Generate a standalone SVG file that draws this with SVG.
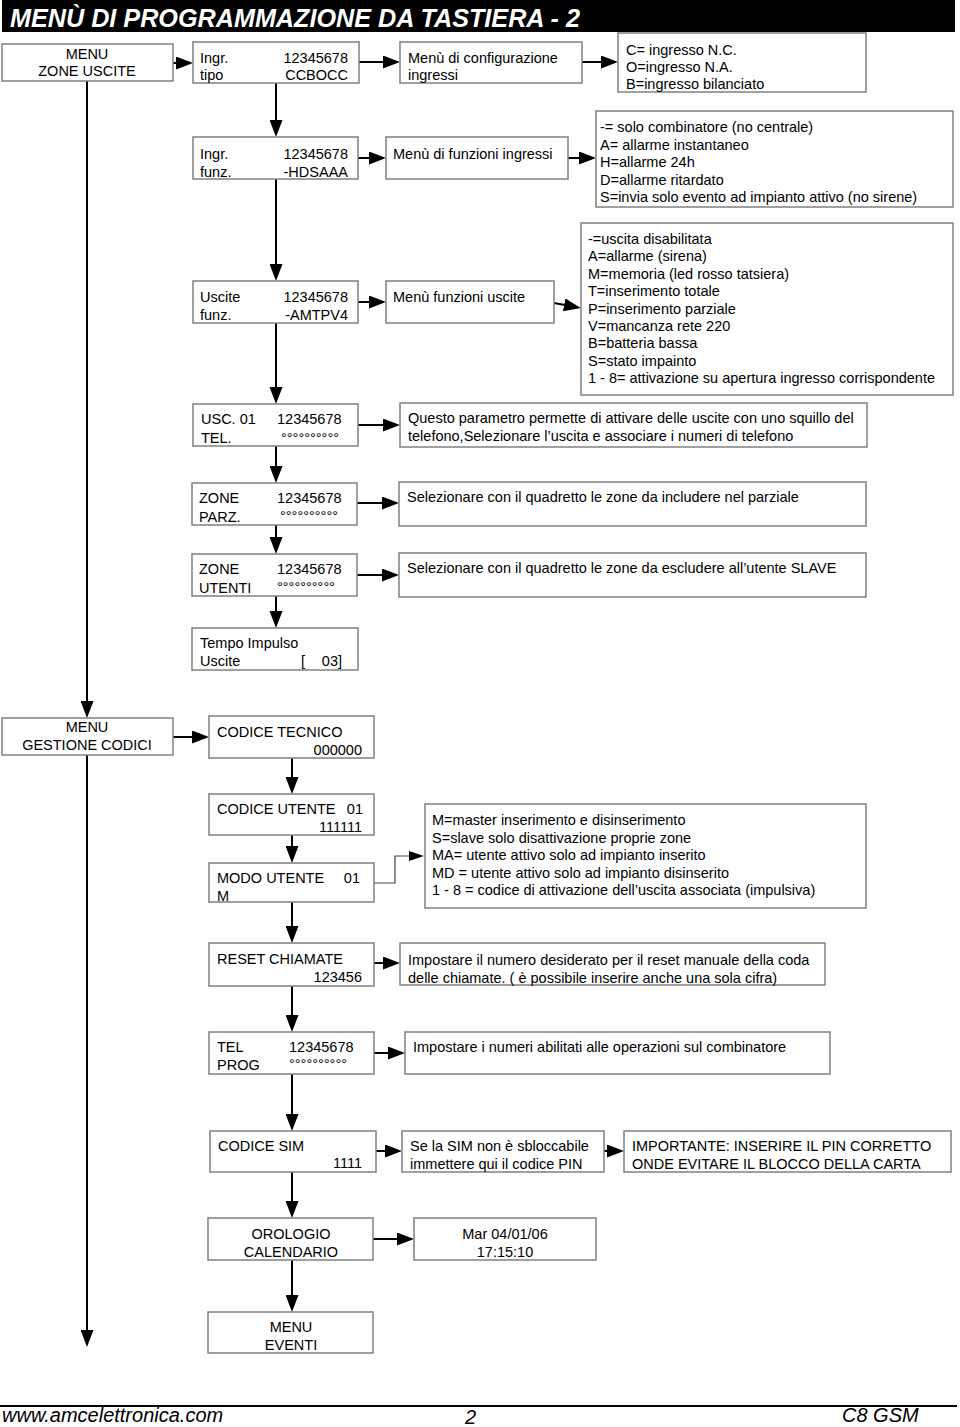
<svg xmlns="http://www.w3.org/2000/svg" width="960" height="1427" viewBox="0 0 960 1427">
<style>
.box{fill:#fff;stroke:#808080;stroke-width:1.5}
text{font-family:"Liberation Sans",Arial,sans-serif;font-size:14.5px;fill:#000}
.c{text-anchor:middle}
.e{text-anchor:end}
.conn line,.conn path{stroke:#000;stroke-width:2;fill:none}
.conn .thin{stroke:#444;stroke-width:1.2}
.ft{font-size:20px;font-style:italic}
</style>
<defs>
<marker id="ah" markerUnits="userSpaceOnUse" markerWidth="17" markerHeight="13" refX="9" refY="6.5" orient="auto">
<path d="M0,0 L17,6.5 L0,13 z" fill="#000"/>
</marker>
<marker id="as" markerUnits="userSpaceOnUse" markerWidth="15" markerHeight="10" refX="8" refY="5" orient="auto">
<path d="M0,0 L15,5 L0,10 z" fill="#000"/>
</marker>
</defs>
<rect width="960" height="1427" fill="#fff"/>
<g id="title">
<rect x="2" y="0" width="953" height="32" fill="#000"/>
<text x="10" y="27" style="font-size:25px;font-weight:bold;font-style:italic;fill:#fff" textLength="570" lengthAdjust="spacingAndGlyphs">MENÙ DI PROGRAMMAZIONE DA TASTIERA - 2</text>
</g>
<g class="conn" id="connectors">
<line x1="173" y1="63" x2="185" y2="63" marker-end="url(#ah)"/>
<line x1="359" y1="62" x2="392" y2="62" marker-end="url(#ah)"/>
<line x1="582" y1="62" x2="610" y2="62" marker-end="url(#ah)"/>
<line x1="276" y1="83" x2="276" y2="129" marker-end="url(#ah)"/>
<line x1="358" y1="158" x2="378" y2="158" marker-end="url(#ah)"/>
<line x1="568" y1="158" x2="588" y2="158" marker-end="url(#ah)"/>
<line x1="276" y1="179" x2="276" y2="273" marker-end="url(#ah)"/>
<line x1="358" y1="302" x2="378" y2="302" marker-end="url(#ah)"/>
<line x1="554" y1="303" x2="573" y2="306.5" marker-end="url(#ah)"/>
<line x1="276" y1="323" x2="276" y2="396" marker-end="url(#ah)"/>
<line x1="358" y1="425" x2="392" y2="425" marker-end="url(#ah)"/>
<line x1="276" y1="446" x2="276" y2="475" marker-end="url(#ah)"/>
<line x1="357" y1="503" x2="391" y2="503" marker-end="url(#ah)"/>
<line x1="276" y1="525" x2="276" y2="546" marker-end="url(#ah)"/>
<line x1="357" y1="575" x2="391" y2="575" marker-end="url(#ah)"/>
<line x1="276" y1="596" x2="276" y2="620" marker-end="url(#ah)"/>
<line x1="87" y1="81" x2="87" y2="710" marker-end="url(#ah)"/>
<line x1="173" y1="737" x2="201" y2="737" marker-end="url(#ah)"/>
<line x1="292" y1="758" x2="292" y2="786" marker-end="url(#ah)"/>
<line x1="292" y1="835" x2="292" y2="855" marker-end="url(#ah)"/>
<path class="thin" d="M374,883 H395 V856 H417" marker-end="url(#as)"/>
<line x1="292" y1="902" x2="292" y2="935" marker-end="url(#ah)"/>
<line x1="374" y1="963" x2="392" y2="963" marker-end="url(#ah)"/>
<line x1="292" y1="986" x2="292" y2="1024" marker-end="url(#ah)"/>
<line x1="374" y1="1053" x2="397" y2="1053" marker-end="url(#ah)"/>
<line x1="292" y1="1074" x2="292" y2="1123" marker-end="url(#ah)"/>
<line x1="376" y1="1151" x2="394" y2="1151" marker-end="url(#ah)"/>
<line x1="604" y1="1151" x2="616" y2="1151" marker-end="url(#ah)"/>
<line x1="292" y1="1172" x2="292" y2="1210" marker-end="url(#ah)"/>
<line x1="373" y1="1239" x2="406" y2="1239" marker-end="url(#ah)"/>
<line x1="292" y1="1260" x2="292" y2="1304" marker-end="url(#ah)"/>
<line x1="87" y1="755" x2="87" y2="1339" marker-end="url(#ah)"/>
</g>
<g id="zone-uscite"><rect class="box" x="2" y="44" width="171" height="37"/><text class="c" x="87" y="59">MENU</text><text class="c" x="87" y="76">ZONE USCITE</text></g>
<g id="ingr-tipo"><rect class="box" x="193" y="42" width="166" height="41"/><text x="200" y="63">Ingr.</text><text x="200" y="80">tipo</text><text class="e" x="348" y="63">12345678</text><text class="e" x="348" y="80">CCBOCC</text></g>
<g id="menu-config"><rect class="box" x="400" y="42" width="182" height="41"/><text x="408" y="63">Menù di configurazione</text><text x="408" y="80">ingressi</text></g>
<g id="config-legend"><rect class="box" x="618" y="33" width="248" height="59"/><text x="626" y="55">C= ingresso N.C.</text><text x="626" y="72">O=ingresso N.A.</text><text x="626" y="89">B=ingresso bilanciato</text></g>
<g id="ingr-funz"><rect class="box" x="193" y="137" width="165" height="42"/><text x="200" y="159">Ingr.</text><text x="200" y="177">funz.</text><text class="e" x="348" y="159">12345678</text><text class="e" x="348" y="177">-HDSAAA</text></g>
<g id="menu-funz-ingr"><rect class="box" x="386" y="137" width="182" height="42"/><text x="393" y="159">Menù di funzioni ingressi</text></g>
<g id="funz-ingr-legend"><rect class="box" x="596" y="111" width="357" height="96"/><text x="600" y="132">-= solo combinatore (no centrale)</text><text x="600" y="149.5">A= allarme instantaneo</text><text x="600" y="167">H=allarme 24h</text><text x="600" y="184.5">D=allarme ritardato</text><text x="600" y="202">S=invia solo evento ad impianto attivo (no sirene)</text></g>
<g id="uscite-funz"><rect class="box" x="193" y="281" width="165" height="42"/><text x="200" y="302">Uscite</text><text x="200" y="320">funz.</text><text class="e" x="348" y="302">12345678</text><text class="e" x="348" y="320">-AMTPV4</text></g>
<g id="menu-funz-uscite"><rect class="box" x="386" y="281" width="168" height="42"/><text x="393" y="302">Menù funzioni uscite</text></g>
<g id="uscite-legend"><rect class="box" x="581" y="223" width="372" height="172"/><text x="588" y="244">-=uscita disabilitata</text><text x="588" y="261.4">A=allarme (sirena)</text><text x="588" y="278.8">M=memoria (led rosso tatsiera)</text><text x="588" y="296.2">T=inserimento totale</text><text x="588" y="313.6">P=inserimento parziale</text><text x="588" y="331">V=mancanza rete 220</text><text x="588" y="348.4">B=batteria bassa</text><text x="588" y="365.8">S=stato impainto</text><text x="588" y="383.2">1 - 8= attivazione su apertura ingresso corrispondente</text></g>
<g id="usc-tel"><rect class="box" x="193" y="404" width="165" height="42"/><text x="201" y="424">USC. 01</text><text x="201" y="443">TEL.</text><text x="277" y="424">12345678</text><text x="281" y="443">°°°°°°°°°°</text></g>
<g id="usc-tel-desc"><rect class="box" x="400" y="403" width="467" height="44"/><text x="408" y="423">Questo parametro permette di attivare delle uscite con uno squillo del</text><text x="408" y="441">telefono,Selezionare l’uscita e associare i numeri di telefono</text></g>
<g id="zone-parz"><rect class="box" x="192" y="483" width="165" height="42"/><text x="199" y="503">ZONE</text><text x="199" y="522">PARZ.</text><text x="277" y="503">12345678</text><text x="280" y="521">°°°°°°°°°°</text></g>
<g id="zone-parz-desc"><rect class="box" x="399" y="482" width="467" height="44"/><text x="407" y="502">Selezionare con il quadretto le zone da includere nel parziale</text></g>
<g id="zone-utenti"><rect class="box" x="192" y="554" width="165" height="42"/><text x="199" y="574">ZONE</text><text x="199" y="593">UTENTI</text><text x="277" y="574">12345678</text><text x="277" y="592">°°°°°°°°°°</text></g>
<g id="zone-utenti-desc"><rect class="box" x="399" y="553" width="467" height="44"/><text x="407" y="573">Selezionare con il quadretto le zone da escludere all’utente SLAVE</text></g>
<g id="tempo-impulso"><rect class="box" x="192" y="628" width="166" height="42"/><text x="200" y="648">Tempo Impulso</text><text x="200" y="666">Uscite</text><text x="301" y="666">[</text><text class="e" x="342" y="666">03]</text></g>
<g id="gestione-codici"><rect class="box" x="2" y="718" width="171" height="37"/><text class="c" x="87" y="732">MENU</text><text class="c" x="87" y="750">GESTIONE CODICI</text></g>
<g id="codice-tecnico"><rect class="box" x="209" y="716" width="165" height="42"/><text x="217" y="737">CODICE TECNICO</text><text class="e" x="362" y="755">000000</text></g>
<g id="codice-utente"><rect class="box" x="209" y="794" width="165" height="41"/><text x="217" y="814">CODICE UTENTE</text><text class="e" x="363" y="814">01</text><text class="e" x="362" y="832">111111</text></g>
<g id="modo-utente"><rect class="box" x="209" y="863" width="165" height="39"/><text x="217" y="883">MODO UTENTE</text><text class="e" x="360" y="883">01</text><text x="217" y="901">M</text></g>
<g id="modo-legend"><rect class="box" x="425" y="804" width="441" height="104"/><text x="432" y="825">M=master inserimento e disinserimento</text><text x="432" y="842.5">S=slave solo disattivazione proprie zone</text><text x="432" y="860">MA= utente attivo solo ad impianto inserito</text><text x="432" y="877.5">MD = utente attivo solo ad impianto disinserito</text><text x="432" y="895">1 - 8 = codice di attivazione dell’uscita associata (impulsiva)</text></g>
<g id="reset-chiamate"><rect class="box" x="209" y="943" width="165" height="43"/><text x="217" y="964">RESET CHIAMATE</text><text class="e" x="362" y="982">123456</text></g>
<g id="reset-desc"><rect class="box" x="400" y="943" width="425" height="42"/><text x="408" y="965">Impostare il numero desiderato per il reset manuale della coda</text><text x="408" y="983">delle chiamate. ( è possibile inserire anche una sola cifra)</text></g>
<g id="tel-prog"><rect class="box" x="209" y="1032" width="165" height="42"/><text x="217" y="1052">TEL</text><text x="217" y="1070">PROG</text><text x="289" y="1052">12345678</text><text x="289" y="1069">°°°°°°°°°°</text></g>
<g id="tel-prog-desc"><rect class="box" x="405" y="1032" width="425" height="42"/><text x="413" y="1052">Impostare i numeri abilitati alle operazioni sul combinatore</text></g>
<g id="codice-sim"><rect class="box" x="210" y="1131" width="166" height="41"/><text x="218" y="1151">CODICE SIM</text><text class="e" x="362" y="1168">1111</text></g>
<g id="sim-desc"><rect class="box" x="402" y="1131" width="202" height="41"/><text x="410" y="1151">Se la SIM non è sbloccabile</text><text x="410" y="1169">immettere qui il codice PIN</text></g>
<g id="sim-warning"><rect class="box" x="624" y="1131" width="327" height="41"/><text x="632" y="1151">IMPORTANTE: INSERIRE IL PIN CORRETTO</text><text x="632" y="1169">ONDE EVITARE IL BLOCCO DELLA CARTA</text></g>
<g id="orologio"><rect class="box" x="208" y="1218" width="165" height="42"/><text class="c" x="291" y="1239">OROLOGIO</text><text class="c" x="291" y="1257">CALENDARIO</text></g>
<g id="data-ora"><rect class="box" x="414" y="1218" width="182" height="42"/><text class="c" x="505" y="1239">Mar 04/01/06</text><text class="c" x="505" y="1257">17:15:10</text></g>
<g id="menu-eventi"><rect class="box" x="208" y="1312" width="165" height="41"/><text class="c" x="291" y="1332">MENU</text><text class="c" x="291" y="1350">EVENTI</text></g>
<g id="footer">
<line x1="0" y1="1406" x2="957" y2="1406" stroke="#000" stroke-width="2"/>
<text class="ft" x="2" y="1422">www.amcelettronica.com</text>
<text class="ft" x="465" y="1424">2</text>
<text class="ft" x="842" y="1422">C8 GSM</text>
</g>
</svg>
